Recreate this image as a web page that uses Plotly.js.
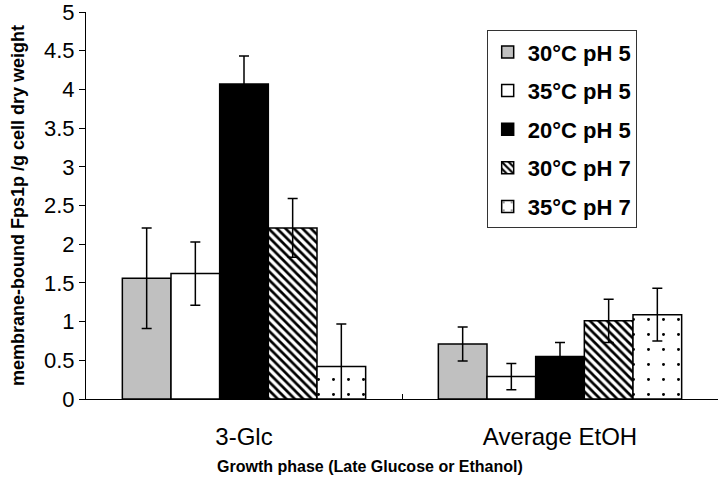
<!DOCTYPE html>
<html>
<head>
<meta charset="utf-8">
<script src="https://cdn.plot.ly/plotly-3.0.1.min.js"></script>
<style>html,body{margin:0;padding:0;background:#fff;}#chart{width:720px;height:485px;}</style>
</head>
<body>
<div id="chart"></div>
<script>
const categories = ["3-Glc", "Average EtOH"];
const seriesNames = ["30°C pH 5", "35°C pH 5", "20°C pH 5", "30°C pH 7", "35°C pH 7"];
const s30pH5 = [1.56, 0.71];
const s35pH5 = [1.62, 0.29];
const s20pH5 = [4.07, 0.55];
const s30pH7 = [2.21, 1.01];
const s35pH7 = [0.42, 1.09];
const e30pH5 = [0.65, 0.22];
const e35pH5 = [0.41, 0.17];
const e20pH5 = [0.36, 0.18];
const e30pH7 = [0.38, 0.28];
const e35pH7 = [0.55, 0.34];
const yTicks = [0, 0.5, 1, 1.5, 2, 2.5, 3, 3.5, 4, 4.5, 5];
const xTitle = "Growth phase (Late Glucose or Ethanol)";
const yTitle = "membrane-bound Fps1p /g cell dry weight";

const values = [s30pH5, s35pH5, s20pH5, s30pH7, s35pH7];
const errors = [e30pH5, e35pH5, e20pH5, e30pH7, e35pH7];
const fills = [
  {color: "#c0c0c0"},
  {color: "#ffffff"},
  {color: "#000000"},
  {color: "#ffffff", pattern: {shape: "\\", fgcolor: "#000", bgcolor: "#fff", size: 6, solidity: 0.45}},
  {color: "#ffffff", pattern: {shape: ".", fgcolor: "#000", bgcolor: "#fff", size: 15, solidity: 0.03}}
];

const traces = seriesNames.map((name, i) => ({
  type: "bar",
  name: name,
  x: categories,
  y: values[i],
  legendgroup: "g" + i,
  marker: Object.assign({line: {color: "#000", width: 1.5}}, fills[i]),
  error_y: {type: "data", array: errors[i], visible: true, color: "#000", thickness: 1.5, width: 5}
}));

const layout = {
  width: 720, height: 485,
  margin: {l: 86, r: 2, t: 12, b: 86},
  paper_bgcolor: "#fff", plot_bgcolor: "#fff",
  barmode: "group", bargap: 0.23, bargroupgap: 0,
  font: {family: "Liberation Sans, Arial, sans-serif", color: "#000"},
  showlegend: true,
  legend: {
    x: 0.634, y: 0.953, xanchor: "left", yanchor: "top",
    bordercolor: "#333", borderwidth: 1, bgcolor: "#fff",
    font: {size: 22, family: "Liberation Sans, Arial, sans-serif", weight: "bold"},
    traceorder: "grouped", tracegroupgap: 7
  },
  xaxis: {
    type: "category",
    showline: true, linecolor: "#000", linewidth: 1,
    ticks: "inside", tickson: "boundaries", ticklen: 5, tickcolor: "#000",
    tickfont: {size: 24}, ticklabelstandoff: 16,
    showgrid: false, zeroline: false
  },
  yaxis: {
    range: [0, 5], tickvals: yTicks, ticktext: yTicks.map(String),
    showline: true, linecolor: "#000", linewidth: 1,
    ticks: "outside", ticklen: 6, tickcolor: "#000",
    tickfont: {size: 22}, ticklabeloverflow: "allow",
    title: {text: yTitle, font: {size: 18, weight: "bold"}, standoff: 14},
    showgrid: false, zeroline: false
  },
  annotations: [{
    text: xTitle, xref: "paper", yref: "paper", x: 0.449, y: -0.175,
    xanchor: "center", yanchor: "middle", showarrow: false,
    font: {size: 16, weight: "bold"}
  }]
};

Plotly.newPlot("chart", traces, layout, {displayModeBar: false, staticPlot: true});
</script>
</body>
</html>
